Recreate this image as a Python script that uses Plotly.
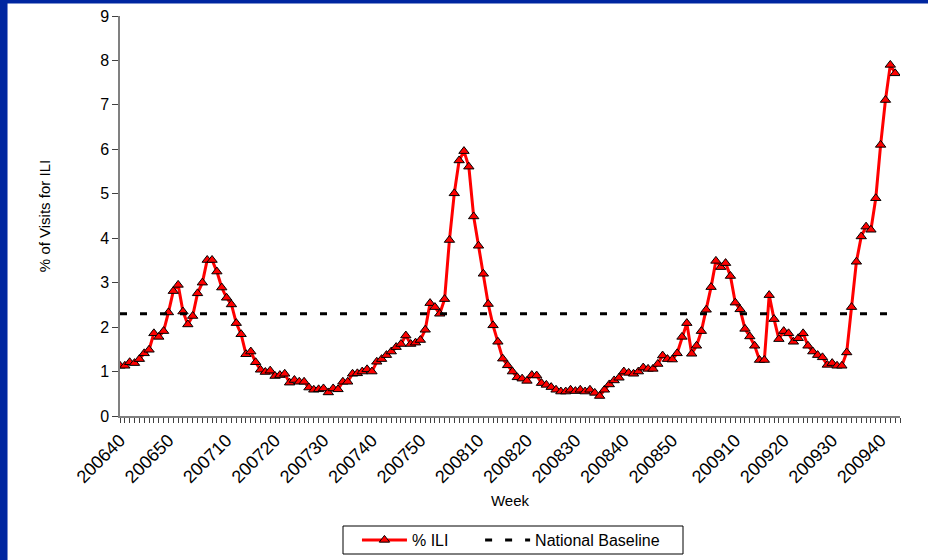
import plotly.graph_objects as go

# ---- categories (MMWR weeks) ----
season_years = [2006, 2007, 2008, 2009]
first_week = {2006: 40}
last_week = {2006: 52, 2007: 52, 2008: 53, 2009: 44}
weeks = []
for yr in season_years:
    for wk in range(first_week.get(yr, 1), last_week[yr] + 1):
        weeks.append(f"{yr}{wk:02d}")

# ---- % ILI series, 200640 .. 200943 ----
ili_pct = [
    1.13, 1.13, 1.21, 1.19, 1.28, 1.41, 1.49, 1.86, 1.78, 1.91, 2.33, 2.81, 2.95,
    2.35, 2.06, 2.25, 2.76, 3.00, 3.51, 3.51, 3.25, 2.89, 2.66, 2.51, 2.09, 1.84,
    1.39, 1.45, 1.21, 1.04, 0.99, 1.02,
    0.90, 0.92, 0.95, 0.75, 0.81, 0.77, 0.77, 0.64, 0.59, 0.60, 0.62, 0.53, 0.62,
    0.60, 0.77, 0.77, 0.95, 0.96, 1.00, 1.05, 1.00, 1.22, 1.28, 1.37, 1.45, 1.55,
    1.62, 1.81, 1.62, 1.65, 1.71, 1.94, 2.54,
    2.45, 2.30, 2.63, 3.96, 5.01, 5.75, 5.96, 5.61, 4.49, 3.83, 3.20, 2.52, 2.04,
    1.67, 1.29, 1.14, 1.00, 0.87, 0.84, 0.79,
    0.92, 0.91, 0.74, 0.70, 0.65, 0.59, 0.55, 0.55, 0.59, 0.56, 0.59, 0.55, 0.59,
    0.52, 0.45, 0.59, 0.71, 0.80, 0.86, 1.00, 0.97, 0.95, 1.00, 1.09, 1.06, 1.06,
    1.17, 1.36, 1.28, 1.27, 1.41, 1.78,
    2.09, 1.40, 1.58, 1.91, 2.39, 2.90, 3.49, 3.35, 3.44, 3.15, 2.55, 2.40, 1.96,
    1.79, 1.58, 1.26, 1.26, 2.72, 2.18, 1.73, 1.91, 1.86, 1.67, 1.75,
    1.86, 1.58, 1.45, 1.37, 1.32, 1.15, 1.19, 1.13, 1.13, 1.43, 2.45, 3.47, 4.04,
    4.26, 4.19, 4.90, 6.10, 7.11, 7.90, 7.71,
]

national_baseline = 2.3

tick_labels = [w if int(w[4:]) % 10 == 0 else "" for w in weeks]
y_ticks = list(range(0, 10))

FONT = "Liberation Sans, Arial, sans-serif"
NBSP = "\u00a0"

fig = go.Figure()
fig.add_trace(go.Scatter(
    x=weeks[:len(ili_pct)], y=ili_pct, name="% ILI" + NBSP * 6,
    mode="lines+markers",
    line=dict(color="#ff0000", width=3),
    marker=dict(symbol="triangle-up", size=9, color="#ff0000",
                line=dict(color="black", width=1)),
))
fig.add_trace(go.Scatter(
    x=[weeks[0], weeks[-1]], y=[national_baseline, national_baseline],
    name="National Baseline", mode="lines",
    line=dict(color="black", width=3, dash="7px,13px"),
))

fig.update_layout(
    width=928, height=560,
    margin=dict(l=120, r=28, t=16, b=144, autoexpand=False),
    paper_bgcolor="#0026a0",
    plot_bgcolor="white",
    font=dict(family=FONT, size=15, color="black"),
    shapes=[
        dict(type="rect", xref="paper", yref="paper",
             x0=-0.1442, x1=1.04, y0=-0.38, y1=1.031,
             fillcolor="white", line=dict(width=0), layer="below"),
        dict(type="rect", xref="paper", yref="paper",
             x0=0.2859, x1=0.7218, y0=-0.345, y1=-0.275,
             fillcolor="rgba(0,0,0,0)", line=dict(color="black", width=1),
             layer="above"),
    ],
    legend=dict(orientation="h", x=0.3038, xanchor="left",
                y=-0.31, yanchor="middle",
                borderwidth=0, bgcolor="rgba(0,0,0,0)",
                font=dict(family=FONT, size=16, color="black"),
                itemwidth=45),
    xaxis=dict(
        type="category", categoryorder="array", categoryarray=weeks,
        range=[0, len(weeks) - 1],
        tickmode="array", tickvals=weeks, ticktext=tick_labels,
        tickangle=-45, ticks="outside", ticklen=5, tickcolor="#404040",
        showline=True, linecolor="#808080", linewidth=1.5,
        showgrid=False, zeroline=False,
        tickfont=dict(family=FONT, size=18, color="black"),
        title=dict(text="Week", standoff=9,
                   font=dict(family=FONT, size=15, color="black")),
    ),
    yaxis=dict(
        range=[0, 9], tickmode="array", tickvals=y_ticks,
        ticks="outside", ticklen=6, tickcolor="#404040",
        showline=True, linecolor="#808080", linewidth=1.5,
        showgrid=False, zeroline=False,
        tickfont=dict(family=FONT, size=16, color="black"),
        title=dict(text="% of Visits for ILI", standoff=46,
                   font=dict(family=FONT, size=15, color="black")),
    ),
)

fig.write_html("out.html",
               config={"displayModeBar": False},
               post_script="document.body.style.margin='0px';"
                           "document.body.style.overflow='hidden';")
